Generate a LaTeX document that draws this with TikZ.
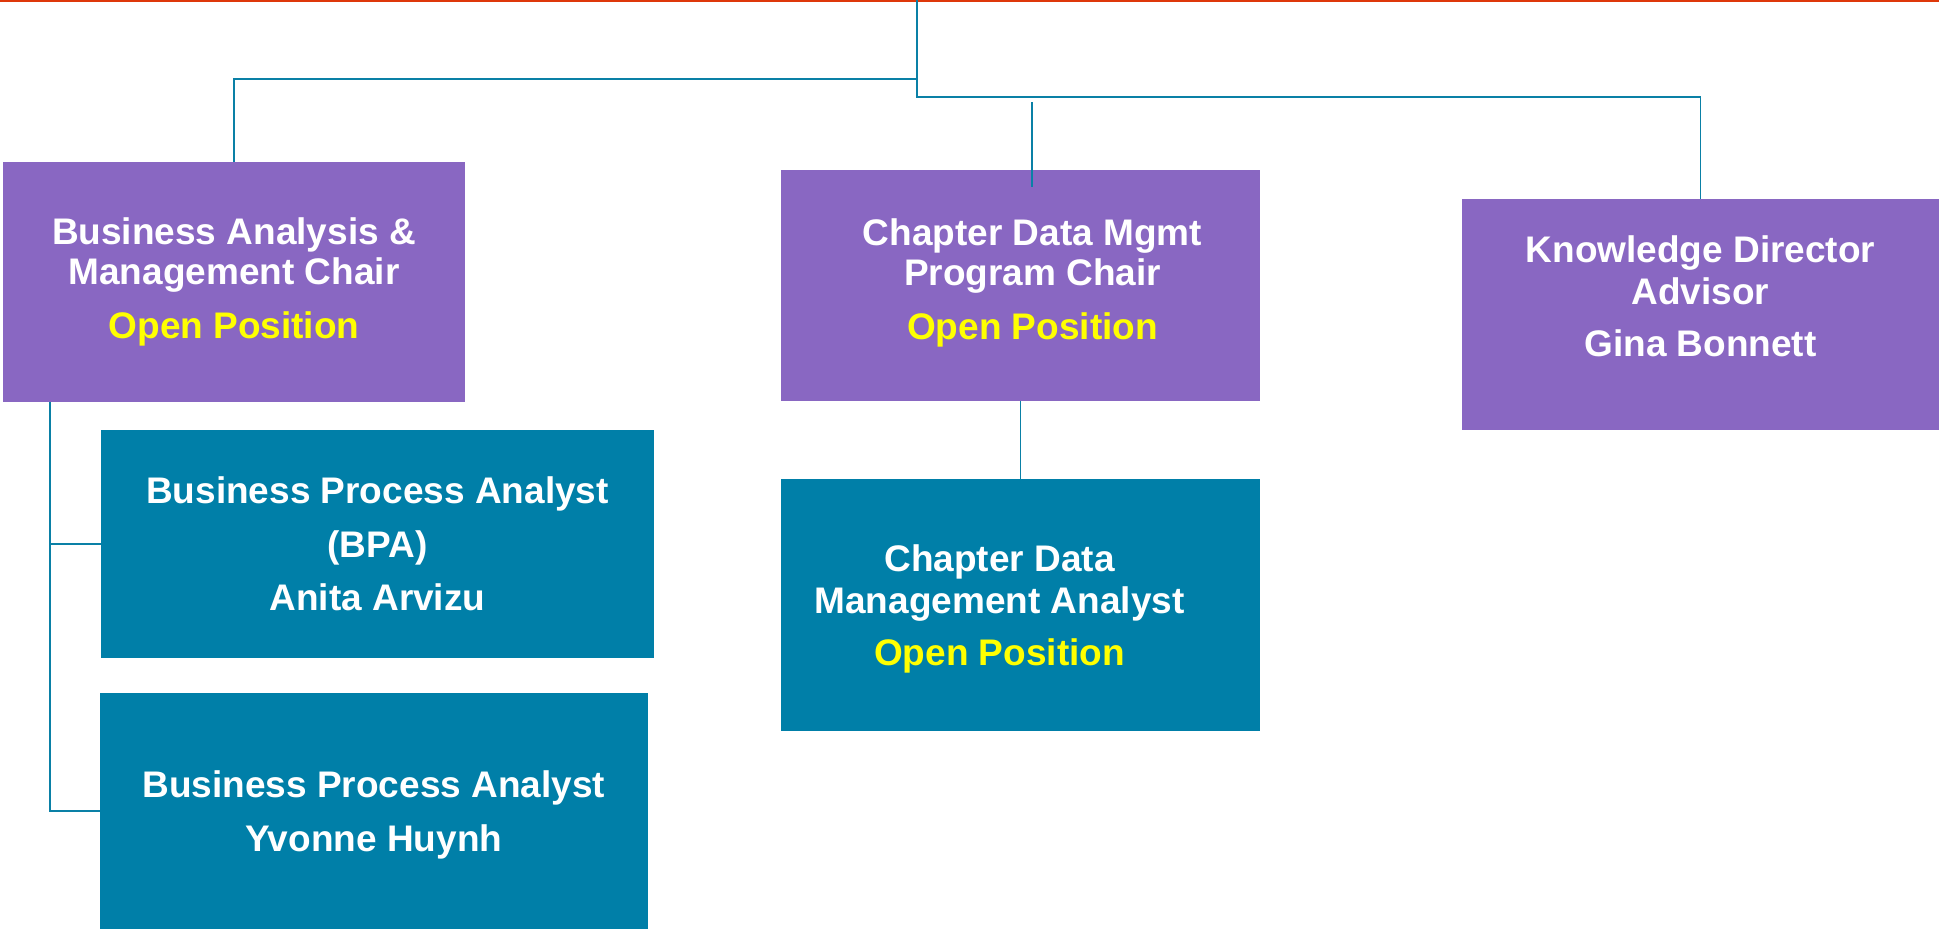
\documentclass[tikz,border=0pt]{standalone}
\usepackage{xcolor}
\usepackage{fontspec}
\setmainfont{Liberation Sans}

\definecolor{chairpurple}{RGB}{137,103,194}
\definecolor{staffteal}{RGB}{0,127,168}
\definecolor{linkteal}{RGB}{10,128,166}
\definecolor{openyellow}{RGB}{255,255,0}
\definecolor{rulered}{RGB}{222,56,10}

\begin{document}
\begin{tikzpicture}[x=0.75pt,y=0.75pt,yscale=-1,xscale=1,
  boxtext/.style={font=\fontsize{27.75}{30}\selectfont\bfseries, text=white, align=center, inner sep=0pt},
  chairbox/.style={boxtext, fill=chairpurple},
  staffbox/.style={boxtext, fill=staffteal},
  link/.style={draw=linkteal, line width=1.25pt}]
\useasboundingbox (0,0) rectangle (1939,929);

%Top rule
\draw [rulered, line width=1.5pt] (0,1) -- (1939,1) ;

%Chair boxes
\node [chairbox, minimum width=346.5pt, minimum height=179.8pt] (bam) at (234,281.85)
  {Business Analysis \&\\Management Chair\\[10.5pt]\textcolor{openyellow}{Open Position}};
\node [chairbox, minimum width=359.25pt, minimum height=173pt] (cdm) at (1020.5,285.35) {};
\node [boxtext] (cdmtext) at ([xshift=9pt,yshift=-1.9pt]cdm.center)
  {Chapter Data Mgmt\\Program Chair\\[10.5pt]\textcolor{openyellow}{Open Position}};
\node [chairbox, minimum width=357.75pt, minimum height=173.25pt, text depth=27pt] (kda) at (1700.5,314.5)
  {Knowledge Director\\[1.5pt]Advisor\\[9pt]Gina Bonnett};

%Staff boxes
\node [staffbox, minimum width=414.75pt, minimum height=170.8pt] (bpa1) at (377.5,543.85)
  {Business Process Analyst\\[10pt](BPA)\\[10pt]Anita Arvizu};
\node [staffbox, minimum width=410.7pt, minimum height=177pt] (bpa2) at (373.8,811) {};
\node [boxtext] (bpa2text) at ([yshift=2.85pt]bpa2.center)
  {Business Process Analyst\\[10.5pt]Yvonne Huynh};
\node [staffbox, minimum width=359.25pt, minimum height=188.8pt] (cdma) at (1020.5,604.85) {};
\node [boxtext] (cdmatext) at ([xshift=-15.75pt,yshift=2.8pt]cdma.center)
  {Chapter Data\\[1.5pt]Management Analyst\\[9pt]\textcolor{openyellow}{Open Position}};

%Connectors
\coordinate (top) at (917,0);
\coordinate (cdmtop) at (1032,102);
\coordinate (cdmin) at (1032,187);
\draw [link] (top) -- ++(0,79) -| (bam.north) ;
\draw [link] (top) -- ++(0,97) -| (kda.north) ;
\draw [link] (cdmtop) -- (cdmin) ;
\draw [link] (cdm.south) -- (cdma.north) ;
\draw [link] (bam.south west) ++(47,0) |- (bpa1.west) ;
\draw [link] (bam.south west) ++(47,0) |- (bpa2.west) ;

\end{tikzpicture}
\end{document}
